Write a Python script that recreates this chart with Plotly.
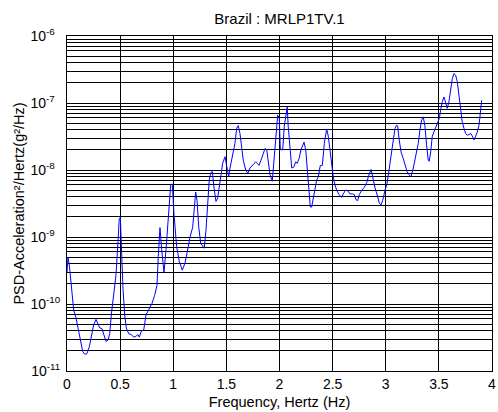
import plotly.graph_objects as go

freq_hz = [
    0.000, 0.009, 0.022, 0.040, 0.063, 0.085, 0.104, 0.125, 0.148, 0.167,
    0.188, 0.210, 0.235, 0.251, 0.273, 0.292, 0.308, 0.329, 0.351, 0.367,
    0.386, 0.402, 0.417, 0.440, 0.461, 0.480, 0.492, 0.502, 0.511, 0.527,
    0.543, 0.558, 0.581, 0.605, 0.628, 0.649, 0.668, 0.680, 0.699, 0.722,
    0.744, 0.769, 0.800, 0.825, 0.847, 0.859, 0.875, 0.891, 0.913, 0.932,
    0.953, 0.976, 0.991, 1.007, 1.032, 1.057, 1.085, 1.111, 1.132, 1.158,
    1.183, 1.198, 1.211, 1.224, 1.240, 1.258, 1.277, 1.292, 1.308, 1.324,
    1.339, 1.353, 1.368, 1.384, 1.402, 1.418, 1.440, 1.465, 1.487, 1.503,
    1.522, 1.534, 1.560, 1.581, 1.597, 1.612, 1.628, 1.644, 1.659, 1.682,
    1.701, 1.722, 1.744, 1.763, 1.776, 1.791, 1.807, 1.826, 1.848, 1.864,
    1.880, 1.895, 1.911, 1.932, 1.951, 1.967, 1.983, 1.998, 2.007, 2.017,
    2.030, 2.045, 2.061, 2.073, 2.082, 2.099, 2.115, 2.134, 2.152, 2.167,
    2.184, 2.202, 2.218, 2.231, 2.247, 2.262, 2.278, 2.290, 2.303, 2.318,
    2.334, 2.350, 2.365, 2.384, 2.403, 2.422, 2.444, 2.459, 2.475, 2.491,
    2.506, 2.522, 2.538, 2.560, 2.585, 2.600, 2.623, 2.642, 2.664, 2.685,
    2.704, 2.720, 2.736, 2.751, 2.774, 2.798, 2.821, 2.836, 2.849, 2.861,
    2.877, 2.899, 2.924, 2.939, 2.955, 2.971, 2.993, 3.012, 3.031, 3.049,
    3.071, 3.087, 3.103, 3.112, 3.127, 3.144, 3.165, 3.181, 3.200, 3.219,
    3.238, 3.259, 3.275, 3.291, 3.306, 3.322, 3.338, 3.353, 3.369, 3.385,
    3.400, 3.409, 3.423, 3.438, 3.454, 3.473, 3.489, 3.504, 3.517, 3.532,
    3.548, 3.564, 3.579, 3.595, 3.611, 3.626, 3.642, 3.658, 3.673, 3.689,
    3.705, 3.720, 3.736, 3.752, 3.767, 3.784, 3.800, 3.815, 3.831, 3.847,
    3.862, 3.878, 3.890, 3.903,
]

psd_values = [
    3.0e-10, 4.9e-10, 3.8e-10, 1.9e-10, 8.1e-11, 6.2e-11, 4.4e-11, 2.75e-11, 1.95e-11, 1.78e-11,
    1.82e-11, 2.3e-11, 3.9e-11, 4.9e-11, 5.9e-11, 5.0e-11, 4.4e-11, 4.3e-11, 3.2e-11, 2.75e-11,
    2.9e-11, 3.6e-11, 6.9e-11, 1.45e-10, 2.7e-10, 8.5e-10, 1.9e-9, 1.95e-9, 7.6e-10, 1.7e-10,
    6.9e-11, 4.4e-11, 3.6e-11, 3.5e-11, 3.2e-11, 3.3e-11, 3.5e-11, 3.2e-11, 3.9e-11, 4.1e-11,
    6.9e-11, 8.1e-11, 1.02e-10, 1.35e-10, 1.9e-10, 5.1e-10, 1.38e-9, 6.5e-10, 2.95e-10, 6.5e-10,
    2.0e-9, 6.0e-9, 6.2e-9, 2.2e-9, 7.2e-10, 4.3e-10, 3.2e-10, 4.1e-10, 6.0e-10, 1.0e-9,
    1.4e-9, 2.5e-9, 4.7e-9, 3.5e-9, 1.4e-9, 8.1e-10, 7.2e-10, 6.8e-10, 1.26e-9, 2.8e-9,
    7.1e-9, 9.1e-9, 9.5e-9, 5.4e-9, 3.4e-9, 3.8e-9, 6.3e-9, 1.26e-8, 1.58e-8, 1.12e-8,
    7.9e-9, 1.07e-8, 1.66e-8, 2.5e-8, 4.2e-8, 4.6e-8, 3.5e-8, 2.3e-8, 1.4e-8, 1.0e-8,
    8.9e-9, 1.07e-8, 1.17e-8, 1.26e-8, 1.32e-8, 1.26e-8, 1.17e-8, 1.4e-8, 1.86e-8, 2.1e-8,
    2.0e-8, 1.4e-8, 8.5e-9, 6.8e-9, 1.58e-8, 4.0e-8, 6.6e-8, 5.9e-8, 2.2e-8, 2.0e-8,
    2.0e-8, 4.5e-8, 7.1e-8, 8.7e-8, 4.5e-8, 2.0e-8, 1.07e-8, 1.1e-8, 1.32e-8, 1.26e-8,
    1.48e-8, 2.0e-8, 2.3e-8, 2.6e-8, 2.0e-8, 1.0e-8, 5.0e-9, 2.8e-9, 2.8e-9, 3.8e-9,
    5.4e-9, 7.1e-9, 7.9e-9, 1.17e-8, 1.17e-8, 2.5e-8, 4.1e-8, 3.2e-8, 2.0e-8, 1.17e-8,
    7.9e-9, 6.0e-9, 5.0e-9, 4.3e-9, 3.9e-9, 4.4e-9, 5.0e-9, 4.9e-9, 4.4e-9, 4.4e-9,
    4.3e-9, 3.6e-9, 3.5e-9, 4.3e-9, 5.0e-9, 5.5e-9, 6.5e-9, 7.9e-9, 9.3e-9, 1.02e-8,
    7.9e-9, 5.4e-9, 4.0e-9, 3.2e-9, 3.0e-9, 3.5e-9, 5.0e-9, 6.3e-9, 1.0e-8, 1.58e-8,
    2.8e-8, 4.2e-8, 4.7e-8, 4.5e-8, 2.8e-8, 1.86e-8, 1.48e-8, 1.17e-8, 9.5e-9, 8.5e-9,
    7.9e-9, 1.07e-8, 1.48e-8, 2.0e-8, 2.5e-8, 4.0e-8, 5.6e-8, 6.2e-8, 4.5e-8, 2.3e-8,
    1.4e-8, 1.35e-8, 1.86e-8, 3.2e-8, 3.7e-8, 4.5e-8, 5.0e-8, 5.9e-8, 7.9e-8, 1.05e-7,
    1.23e-7, 1.0e-7, 8.3e-8, 1.05e-7, 1.66e-7, 2.3e-7, 2.75e-7, 2.6e-7, 2.1e-7, 1.38e-7,
    8.3e-8, 5.2e-8, 4.2e-8, 3.5e-8, 3.3e-8, 3.4e-8, 3.5e-8, 3.2e-8, 2.8e-8, 3.2e-8,
    3.7e-8, 4.7e-8, 7.4e-8, 1.1e-7,
]

x_tick_vals = [0, 0.5, 1, 1.5, 2, 2.5, 3, 3.5, 4]
x_tick_text = ["0", "0.5", "1", "1.5", "2", "2.5", "3", "3.5", "4"]
y_tick_vals = [1e-11, 1e-10, 1e-9, 1e-8, 1e-7, 1e-6]
# labels are left-aligned in the reference: pad the short exponents
y_tick_text = ["10<sup>-11</sup>", "10<sup>-10</sup>", "10<sup>-9\u00a0\u00a0</sup>",
               "10<sup>-8\u00a0\u00a0</sup>", "10<sup>-7\u00a0\u00a0</sup>",
               "10<sup>-6\u00a0\u00a0</sup>"]

title_text = "Brazil : MRLP1TV.1"
x_title = "Frequency, Hertz (Hz)"
y_title = "PSD-Acceleration²/Hertz(g²/Hz)"

font_family = "Arial, Liberation Sans, sans-serif"

fig = go.Figure()
fig.add_trace(go.Scatter(
    x=freq_hz, y=psd_values, mode="lines",
    line=dict(color="#0000ff", width=1),
    showlegend=False, hoverinfo="skip",
))

fig.update_layout(
    width=498, height=412,
    margin=dict(l=67, r=6, t=36, b=41),
    paper_bgcolor="white", plot_bgcolor="white",
    font=dict(family=font_family, size=14, color="#000"),
    title=dict(text=title_text, xref="paper", x=0.5, xanchor="center",
               yref="container", y=0.954, yanchor="middle",
               font=dict(size=15, family=font_family, color="#000")),
)

fig.update_xaxes(
    range=[0, 4], automargin=False,
    tickvals=x_tick_vals, ticktext=x_tick_text,
    showgrid=True, gridcolor="#000", gridwidth=1,
    showline=True, linecolor="#000", linewidth=1, mirror=True,
    ticks="", zeroline=False,
    tickfont=dict(size=14, family=font_family),
    title=dict(text=x_title, font=dict(size=14.5, family=font_family), standoff=6),
)

fig.update_yaxes(
    type="log", range=[-11, -6], automargin=False,
    tickvals=y_tick_vals, ticktext=y_tick_text,
    showgrid=True, gridcolor="#000", gridwidth=1,
    minor=dict(dtick="D1", showgrid=True, gridcolor="#000", gridwidth=1, ticks=""),
    showline=True, linecolor="#000", linewidth=1, mirror=True,
    ticks="", zeroline=False, ticklabelstandoff=3,
    tickfont=dict(size=14, family=font_family),
    title=dict(text=y_title, font=dict(size=14.5, family=font_family), standoff=2),
)

fig.write_html(
    "out.html",
    config={"displayModeBar": False, "staticPlot": True},
    post_script="document.body.style.margin='0';document.body.style.overflow='hidden';",
)
